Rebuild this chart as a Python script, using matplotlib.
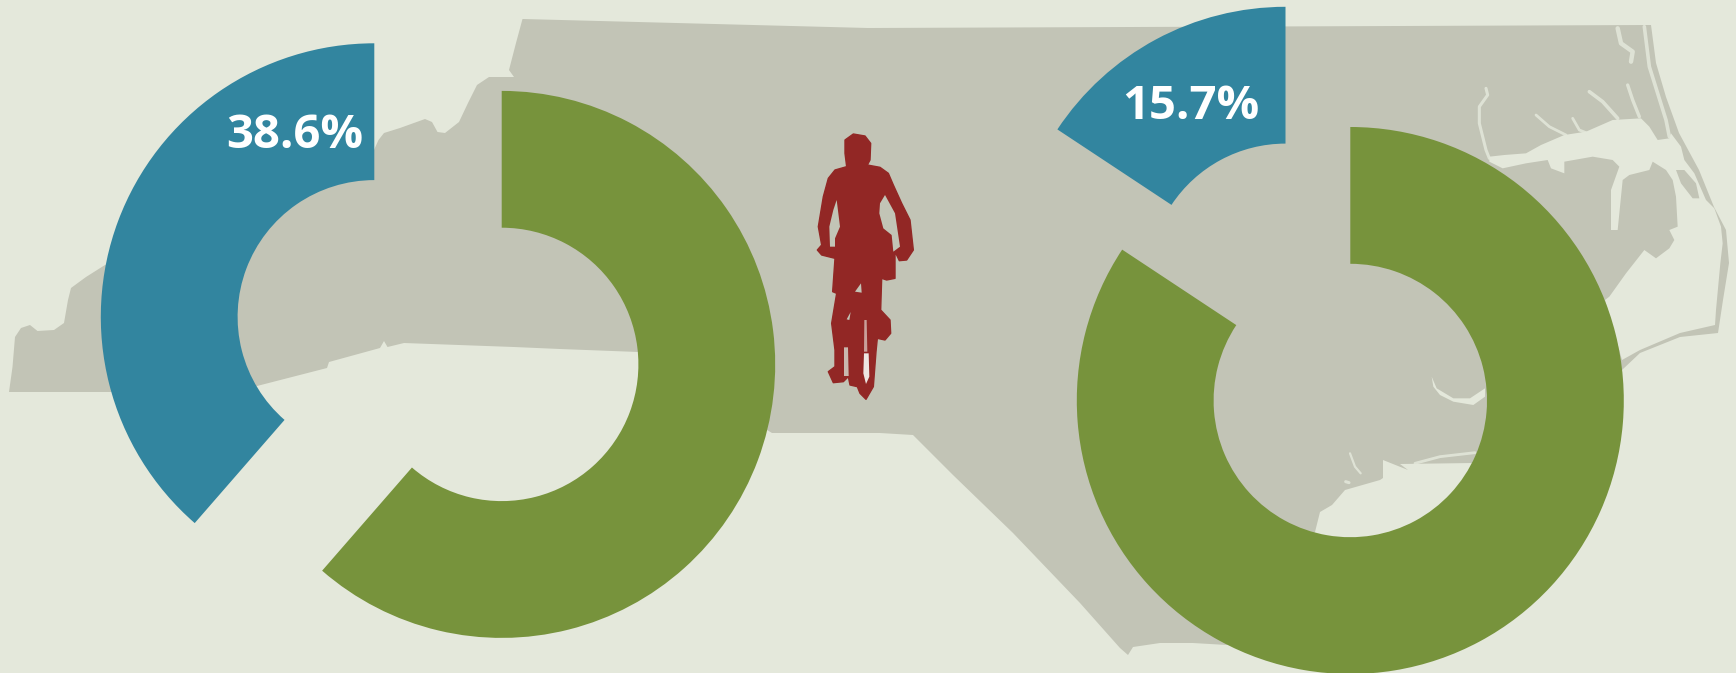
import numpy as np
import matplotlib
matplotlib.use("Agg")
import matplotlib.pyplot as plt
from matplotlib.patches import Polygon

# ---- data ----
left_shares = [38.6, 61.4]
right_shares = [15.7, 84.3]

# ---- style ----
BG = "#E4E8DB"
MAP = "#C2C4B6"
BLUE = "#32859F"
GREEN = "#77933C"
RED = "#922725"
OUTER_R = 273.5
RING = 136.8

fig = plt.figure(figsize=(17.36, 6.73), dpi=100, facecolor=BG)
ax = fig.add_axes([0, 0, 1, 1])

# ---- decorative backdrop: North Carolina silhouette (pixel coordinates) ----
state = [(9,392),(12.5,367),(15,337),(21,328),(30,325),(37.5,331),(54,330),(64,323),(68,300),
         (71,288),(86,277),(105,265),(374,150),(378.5,140),(384,133),(400,128),(425,119),(432,122),
         (437.5,132),(445,133),(459,122),(468,103),(477,85),(489,77),(514,77),(509,70),(516,43),
         (522.5,19),(868,28),(1400,26),(1651,25),(1656,63),(1666,97),(1679,133),(1699,170),(1714,207),
         (1726,230),(1729,263),(1723,300),(1718,333),(1680,337),(1640,353),(1622,370),(1473,463),
         (1400,464),(1408,470),(1383,460),(1383,478),(1380,480),(1345,490),(1332,505),(1320,512),
         (1315,532),(1227,645),(1193,643),(1160,643),(1133,647),(1128,655),(1120,648),(1080,603),
         (1013,533),(953,475),(913,435),(880,433),(772,433),(638.5,352),(560,349),(514,347),(404,343),
         (387.5,347),(384,341),(380,348),(329,362),(327,368),(257,386),(111,392)]
ax.add_patch(Polygon(state, closed=True, fc=MAP, ec="none", zorder=1))

def z5(pts):
    return [(1436 + x / 3, 10 + y / 3) for x, y in pts]

def z6(pts):
    return [(1300 + x / 3, 300 + y / 3) for x, y in pts]

sound = z5([(160,440),(205,435),(270,430),(315,405),(385,375),(450,365),(530,330),(615,325),
            (640,350),(665,390),(700,385),(705,370),(735,410),(745,450),(775,490),(810,570),
            (835,595),(855,650),(860,700),(853,760),(840,900)]) + \
        [(1715,325),(1680,333),(1640,350),(1622,360),(1605,300)] + \
        z5([(520,860),(570,790),(625,720),(660,745),(700,715),(715,690),(700,660),(725,650),
            (720,560),(710,510),(690,480),(650,455),(640,480),(580,495),(560,510),(545,660),
            (525,660),(525,540),(550,470),(530,450),(470,440),(385,455),(385,490),(345,475),
            (335,450),(270,460),(200,475),(160,455)])
ax.add_patch(Polygon(sound, closed=True, fc=BG, ec="none", zorder=2))
ax.add_patch(Polygon(z5([(720,480),(745,480),(780,520),(790,565),(770,565),(735,520)]),
                     closed=True, fc=MAP, ec="none", zorder=3))
ax.add_patch(Polygon(z6([(395,230),(410,265),(460,295),(510,295),(555,265),(555,290),(520,315),
                         (460,305),(420,285),(400,260)]), closed=True, fc=BG, ec="none", zorder=2))

creeks = [
    (z5([(150,235),(155,255),(130,290),(130,340),(150,420),(160,445)]), 2.2),
    (z5([(460,245),(500,275),(545,325)]), 2.6),
    (z5([(300,315),(340,350),(390,375)]), 2.0),
    (z5([(410,325),(430,360),(450,368)]), 2.0),
    (z5([(545,55),(555,100),(590,125),(585,155)]), 3.2),
    (z5([(575,225),(590,270),(610,320)]), 2.4),
    (z5([(625,50),(640,170),(690,330),(700,380)]), 2.6),
    (z6([(345,490),(420,470),(525,458)]), 2.0),
    (z6([(150,460),(165,500),(182,520)]), 1.6),
    (z6([(175,570),(190,580)]), 1.6),
    (z6([(137,545),(147,548)]), 2.2),
]
for pts, lw in creeks:
    xs, ys = zip(*pts)
    ax.plot(xs, ys, color=BG, lw=lw, solid_capstyle="round", alpha=0.85, zorder=2)

# ---- decorative cyclist ----
def z3(pts):
    return [(780 + x / 3, 110 + y / 3) for x, y in pts]

rider = z3([(195,90),(220,72),(255,78),(272,100),(270,150),(262,165),(300,172),(325,190),(340,225),
            (365,280),(390,330),(400,420),(380,450),(358,452),(345,425),(345,505),(320,510),(305,505),
            (302,600),(330,630),(332,670),(315,690),(292,685),(288,725),(280,830),(258,868),(240,850),
            (232,830),(210,825),(205,800),(190,815),(160,818),(145,785),(165,770),(165,720),(155,640),
            (170,550),(158,545),(165,445),(125,435),(112,420),(125,405),(115,350),(130,260),(145,205),
            (165,180),(200,170),(195,130)])
ax.add_patch(Polygon(rider, closed=True, fc=RED, ec=RED, lw=1.0, joinstyle="round", zorder=4))
for hole, col in [([(170,270),(180,350),(165,385),(165,410),(150,410),(148,350),(160,300)], MAP),
                  ([(315,255),(345,310),(360,410),(340,425),(335,375),(310,355),(298,310),(300,280)], MAP),
                  ([(252,730),(266,730),(268,800),(258,822),(250,790)], "#EDE6E2"),
                  ([(253,630),(260,630),(262,725),(252,725)], "#C9A09A"),
                  ([(192,712),(204,712),(206,798),(192,798)], "#C9B8AE"),
                  ([(225,545),(243,520),(245,548)], MAP),
                  ([(200,628),(212,606),(208,630)], MAP)]:
    ax.add_patch(Polygon(z3(hole), closed=True, fc=col, ec="none", zorder=5))

# ---- donuts: y axis points down, so the visual top is angle -90 ----
def half(values, color, center, clockwise):
    wedges, _ = ax.pie(values, colors=[color, "none"], center=center, radius=OUTER_R,
                       startangle=-90, counterclock=not clockwise, frame=True,
                       wedgeprops=dict(width=RING, linewidth=0))
    for w in wedges:
        w.set_zorder(6)

half(left_shares, BLUE, (374.3, 316.8), True)
half([left_shares[1], left_shares[0]], GREEN, (501.7, 364.4), False)
half(right_shares, BLUE, (1285.5, 280.3), True)
half([right_shares[1], right_shares[0]], GREEN, (1350.3, 400.5), False)

ax.text(294.5, 148, f"{left_shares[0]}%", color="white", family="Open Sans", weight="bold",
        fontsize=34, ha="center", va="baseline", zorder=7)
ax.text(1190.5, 119, f"{right_shares[0]}%", color="white", family="Open Sans", weight="bold",
        fontsize=34, ha="center", va="baseline", zorder=7)

ax.set_xlim(0, 1736)
ax.set_ylim(673, 0)
ax.set_aspect("auto")
ax.axis("off")
fig.savefig("out.png", dpi=100, facecolor=BG)
